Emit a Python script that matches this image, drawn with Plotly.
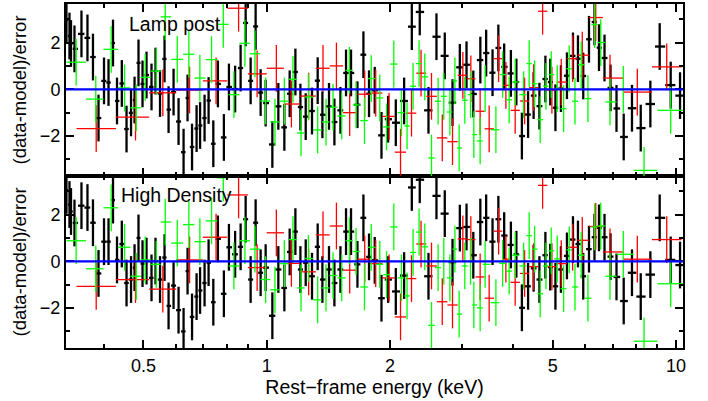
import numpy as np
import plotly.graph_objects as go

# ---------------- data ----------------
black_energy = [0.3243, 0.3299, 0.3327, 0.3393, 0.3529, 0.3650, 0.3765, 0.3884, 0.4006, 0.4109,
                0.4214, 0.4310, 0.4428, 0.4547, 0.4664, 0.4757, 0.4864, 0.4975, 0.5088, 0.5233,
                0.5352, 0.5490, 0.5631, 0.5760, 0.5924, 0.6093, 0.6267, 0.6409, 0.6573, 0.6743,
                0.6877, 0.7053, 0.7214, 0.7408, 0.7602, 0.7862, 0.8089, 0.8375, 0.8638, 0.8886,
                0.9139, 0.9399, 0.9668, 0.9944, 1.0326, 1.0680, 1.1047, 1.1382, 1.1755, 1.2091,
                1.2457, 1.2906, 1.3325, 1.3683, 1.4201, 1.4639, 1.5143, 1.5628, 1.6073, 1.6664,
                1.7234, 1.7786, 1.8367, 1.9077, 1.9801, 2.0677, 2.1667, 2.2625, 2.3659, 2.4849,
                2.5990, 2.7233, 2.8445, 2.9640, 3.0779, 3.1976, 3.3266, 3.4372, 3.5629, 3.6813,
                3.8037, 3.9501, 4.0738, 4.2024, 4.3513, 4.4887, 4.6378, 4.7965, 4.9285, 5.0751,
                5.2343, 5.4145, 5.6009, 5.7605, 5.9342, 6.1289, 6.3214, 6.4836, 6.6880, 6.9183,
                7.1548, 7.4508, 7.8054, 8.1997, 8.6559, 9.1223, 9.7051, 10.228]
black_lamppost = [2.96, 2.28, 1.96, 1.73, 2.37, 2.20, 1.38, -1.23, 0.36, 0.29,
                  1.98, -0.50, 0.25, -1.70, -1.01, -0.46, 1.13, 0.23, 0.61, 0.10,
                  0.78, -0.18, 1.30, -0.87, -0.12, -1.38, -2.69, -0.37, -2.47, -1.68,
                  -1.55, -1.23, -0.48, -2.33, 0.23, -2.06, 0.10, 0.01, 0.91, 2.84,
                  0.36, 2.69, -0.14, -0.59, -2.36, -0.73, -1.63, -0.19, 0.74, -0.76,
                  -1.17, -0.93, 0.37, -1.09, -0.73, -1.40, -0.90, 0.70, 0.70, -0.66,
                  1.48, -0.19, -0.04, -1.97, -1.28, -1.43, -0.50, 2.68, 3.31, -0.90,
                  2.25, 1.43, -0.57, 0.94, 1.05, -0.20, 1.25, 1.55, 0.71, 1.77,
                  0.96, 0.68, 0.31, -2.00, -1.08, -0.27, -0.72, 0.44, 0.31, -0.79,
                  0.03, 0.58, 1.43, 1.31, 0.57, 2.14, 2.88, 1.78, 1.34, 0.06,
                  -0.82, -2.04, -0.81, -1.66, -0.63, 1.83, 0.18, -0.27]
black_highdensity = [3.04, 2.43, 2.13, 1.64, 2.38, 2.30, 1.65, -0.52, 0.84, 0.84,
                     2.62, 0.06, 0.74, -0.93, -0.78, -0.27, 1.00, -0.10, 0.01, -0.71,
                     0.01, -0.78, 0.16, -1.91, -1.04, -2.09, -3.00, -0.42, -2.38, -1.51,
                     -1.25, -0.93, -0.06, -1.75, 0.96, -1.39, 0.60, 0.30, 0.62, 1.80,
                     -0.78, 1.65, -0.49, -0.27, -2.33, -0.35, -1.14, 0.40, 1.27, -0.35,
                     -0.06, -0.64, 0.62, -0.78, -0.35, -0.93, -0.35, 1.27, 1.27, -0.13,
                     1.86, 0.19, 0.04, -1.58, -0.78, -1.29, -0.61, 3.16, 3.49, -0.64,
                     2.80, 2.04, -0.04, 1.42, 1.47, 0.26, 1.68, 1.86, 0.84, 1.80,
                     1.10, 0.70, 0.30, -1.99, -1.07, -0.30, -0.78, 0.26, -0.25, -1.07,
                     -0.35, 0.23, 0.93, 0.74, -0.64, 0.52, 1.03, 1.43, 1.03, 0.20,
                     -0.67, -1.70, -0.49, -1.51, -0.57, 1.86, 0.06, -0.16]

green_energy = [0.3425, 0.3825, 0.4172, 0.4496, 0.4802, 0.5051, 0.5374, 0.5653, 0.6049, 0.6457,
                0.6869, 0.7336, 0.7836, 0.8318, 0.8849, 0.9363, 0.9944, 1.0478, 1.1047, 1.1594,
                1.2132, 1.2647, 1.3325, 1.3964, 1.4526, 1.5254, 1.5929, 1.6533, 1.7334, 1.8009,
                1.8895, 1.9622, 2.0445, 2.1349, 2.2029, 2.2788, 2.3571, 2.4339, 2.5275, 2.6233,
                2.7083, 2.8027, 2.8832, 2.9524, 3.0485, 3.1477, 3.2070, 3.3228, 3.4174, 3.6308,
                3.7706, 3.9121, 4.0467, 4.2423, 4.3782, 4.5131, 4.6581, 4.8108, 4.9557, 5.1265,
                5.3144, 5.4847, 5.6644, 5.8681, 6.0930, 6.3287, 6.5466, 6.8977, 7.4337, 8.3541,
                9.7051]
green_lamppost = [1.16, -0.42, 1.71, 0.06, -0.79, 0.51, 0.78, 3.10, 1.28, 1.50,
                  0.48, 1.27, 2.78, -0.23, 1.97, 1.52, -0.50, -1.40, -0.51, 0.43,
                  -1.87, -0.33, -1.74, -1.40, -0.77, -1.14, 0.81, -0.67, -1.34, 0.46,
                  -0.37, -1.61, 1.08, -1.00, -1.57, 0.13, 1.10, 0.53, -2.94, -0.51,
                  -0.30, -0.97, 0.36, -2.51, -0.47, -0.23, -1.94, -2.21, 0.03, -1.73,
                  0.63, -0.45, 0.31, -0.23, 1.10, 0.24, -1.30, 0.13, 0.63, 0.03,
                  -0.83, 0.88, -0.51, 1.05, -0.40, 2.77, 2.00, -0.54, 0.00, -3.47,
                  -0.90]
green_highdensity = [0.88, -0.32, 2.29, 0.60, -0.64, 0.06, -0.13, 1.68, 0.78, 1.57,
                     0.84, 1.73, 3.57, -0.20, 0.88, 0.52, -0.78, -1.22, -0.10, 0.93,
                     -1.14, 0.12, -1.65, -1.14, -0.61, -0.71, 0.88, 0.42, -1.10, 0.60,
                     -0.13, -0.57, 1.47, -0.71, -1.48, 0.38, 1.25, 0.62, -2.74, -0.27,
                     0.00, -0.71, 0.52, -2.26, -0.20, 0.00, -1.87, -1.99, -0.13, -1.77,
                     -0.09, -0.42, 0.26, -0.20, 1.10, 0.52, -1.39, -0.20, 0.45, 0.10,
                     -1.17, 0.49, -1.10, 0.26, -1.58, 1.47, 1.51, -0.64, 0.30, -3.42,
                     -0.96]

red_energy = [0.3834, 0.4783, 0.5577, 0.6483, 0.7524, 0.8541, 0.9479, 1.0561, 1.1493, 1.2667,
              1.3730, 1.4806, 1.5955, 1.7362, 1.8469, 1.9910, 2.1233, 2.2588, 2.3834, 2.5275,
              2.6853, 2.8445, 3.0148, 3.1535, 3.3228, 3.4956, 3.6864, 3.8405, 4.0467, 4.2668,
              4.4887, 4.7221, 4.9752, 5.2439, 5.5906, 5.9014, 6.3652, 6.8977, 8.0425, 9.4906]
red_lamppost = [-1.68, -1.19, -0.15, -0.03, 0.36, 3.47, 0.66, 0.90, -0.63, -0.29,
                0.90, 1.00, -1.00, -0.21, -0.16, -1.16, -2.69, -1.02, 0.69, -0.30,
                -2.08, -2.24, 0.60, 0.45, -0.94, -1.69, 1.31, 0.17, -0.90, -0.50,
                0.07, 3.34, -0.04, 0.31, 1.31, 1.46, 3.07, 0.48, -0.12, 0.96]
red_highdensity = [-1.07, -0.78, -1.19, 0.06, 1.03, 2.84, -0.27, 1.22, -0.09, -0.45,
                   1.13, 1.51, -0.38, 0.09, -0.10, -0.71, -2.38, -0.74, 0.74, -0.20,
                   -1.73, -1.87, 0.96, 0.93, -0.67, -1.58, 1.29, 0.09, -0.90, -0.52,
                   -0.23, 3.25, -0.23, -0.10, 0.60, 0.90, 1.49, 0.40, 0.09, 0.93]

x_major = [0.5, 1, 2, 5, 10]
x_major_text = ["0.5", "1", "2", "5", "10"]
x_minor = [0.4, 0.6, 0.7, 0.8, 0.9, 3, 4, 6, 7, 8, 9]
y_major = [-2, 0, 2]
y_major_text = ["\u22122", "0", "2"]
y_minor = [-3, -1, 1, 3]

panel_labels = ["Lamp post", "High Density"]
x_title = "Rest\u2212frame energy (keV)"
y_title = "(data-model)/error"


def bin_errors(energy):
    lg = np.log10(np.asarray(energy, dtype=float))
    mid = (lg[1:] + lg[:-1]) / 2.0
    lo = np.concatenate([[2 * lg[0] - mid[0]], mid])
    hi = np.concatenate([mid, [2 * lg[-1] - mid[-1]]])
    x = 10 ** lg
    return (10 ** hi - x), (x - 10 ** lo)


fig = go.Figure()

FONT = "Liberation Sans, Arial, Helvetica, sans-serif"


def add_series(energy, resid, color, width, xa, ya):
    plus, minus = bin_errors(energy)
    fig.add_trace(go.Scatter(
        x=energy, y=resid, mode="markers",
        marker=dict(size=0, color="rgba(0,0,0,0)"),
        error_x=dict(type="data", symmetric=False, array=plus, arrayminus=minus,
                     color=color, thickness=width, width=0),
        error_y=dict(type="data", array=[1.0] * len(resid),
                     color=color, thickness=width, width=0),
        xaxis=xa, yaxis=ya, hoverinfo="skip", showlegend=False,
    ))


# top panel (Lamp post) -> x2/y2 ; bottom (High Density) -> x/y
add_series(black_energy, black_lamppost, "#000000", 2.3, "x2", "y2")
add_series(red_energy, red_lamppost, "#ff0000", 1.3, "x2", "y2")
add_series(green_energy, green_lamppost, "#00ff00", 1.3, "x2", "y2")

add_series(black_energy, black_highdensity, "#000000", 2.3, "x", "y")
add_series(red_energy, red_highdensity, "#ff0000", 1.3, "x", "y")
add_series(green_energy, green_highdensity, "#00ff00", 1.3, "x", "y")

xrange = [np.log10(0.3235), np.log10(10.4)]
yrange = [-3.71, 3.65]

common_x = dict(
    type="log", range=xrange, showline=True, linecolor="black", linewidth=2,
    mirror="ticks", ticks="inside", ticklen=8, tickwidth=1.5, tickcolor="black",
    tickvals=x_major, ticktext=x_major_text, showgrid=False, zeroline=False,
    automargin=False,
    minor=dict(tickvals=x_minor, ticks="inside", ticklen=4, tickwidth=1.5,
               tickcolor="black", showgrid=False),
    tickfont=dict(family=FONT, size=18, color="black"),
)
common_y = dict(
    range=yrange, showline=True, linecolor="black", linewidth=2,
    mirror="ticks", ticks="inside", ticklen=8, tickwidth=1.5, tickcolor="black",
    tickvals=y_major, ticktext=y_major_text, showgrid=False, zeroline=False,
    automargin=False,
    minor=dict(tickvals=y_minor, ticks="inside", ticklen=4, tickwidth=1.5,
               tickcolor="black", showgrid=False),
    tickfont=dict(family=FONT, size=18, color="black"),
    title=dict(text=y_title, font=dict(family=FONT, size=18.5, color="black"), standoff=8),
)

fig.update_layout(
    width=708, height=401,
    margin=dict(l=66, r=25, t=4, b=53),
    paper_bgcolor="white", plot_bgcolor="white",
    font=dict(family=FONT, size=18, color="black"),
    xaxis=dict(common_x, domain=[0, 1], anchor="y",
               title=dict(text=x_title, font=dict(family=FONT, size=19.5, color="black"), standoff=5)),
    yaxis=dict(common_y, domain=[0, 0.5], anchor="x"),
    xaxis2=dict(common_x, domain=[0, 1], anchor="y2", matches="x", showticklabels=False),
    yaxis2=dict(common_y, domain=[0.5, 1], anchor="x2"),
    shapes=[
        dict(type="line", xref="x domain", yref="y", x0=0, x1=1, y0=0, y1=0,
             line=dict(color="#0000ff", width=2.3), layer="above"),
        dict(type="line", xref="x2 domain", yref="y2", x0=0, x1=1, y0=0, y1=0,
             line=dict(color="#0000ff", width=2.3), layer="above"),
    ],
    annotations=[
        dict(text=panel_labels[0], xref="paper", yref="paper", x=0.099, y=0.942,
             xanchor="left", yanchor="middle", showarrow=False,
             font=dict(family=FONT, size=19.5, color="black")),
        dict(text=panel_labels[1], xref="paper", yref="paper", x=0.086, y=0.445,
             xanchor="left", yanchor="middle", showarrow=False,
             font=dict(family=FONT, size=19.5, color="black")),
    ],
)

fig.write_html("out.html", config={"displayModeBar": False},
               post_script="document.body.style.margin='0px';")
